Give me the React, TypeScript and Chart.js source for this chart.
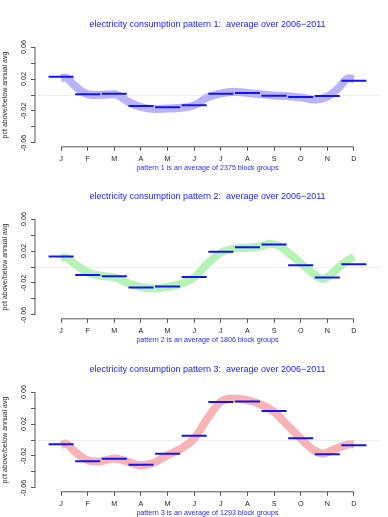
import React, { useEffect, useRef } from 'react';
import { Chart, registerables } from 'chart.js';

Chart.register(...registerables);

// ---------- data ----------
const monthLabels = ['J', 'F', 'M', 'A', 'M', 'J', 'J', 'A', 'S', 'O', 'N', 'D'];
const monthPositions = [1, 2, 3, 4, 5, 6, 7, 8, 9, 10, 11, 12];
const yTickValues = [-0.06, -0.04, -0.02, 0, 0.02, 0.04, 0.06];
const yTickLabels = ['-0.06', '', '-0.02', '', '0.02', '', '0.06'];

const titles = [
  'electricity consumption pattern 1:  average over 2006\u22122011',
  'electricity consumption pattern 2:  average over 2006\u22122011',
  'electricity consumption pattern 3:  average over 2006\u22122011',
];
const subtitles = [
  'pattern 1 is an average of 2375 block groups',
  'pattern 2 is an average of 1806 block groups',
  'pattern 3 is an average of 1293 block groups',
];
const yAxisTitle = 'pct above/below annual avg';

// monthly averages (blue segments)
const monthly1 = [0.0229, 0.0008, 0.0017, -0.0138, -0.0154, -0.0129, 0.0017, 0.0025, -0.0008, -0.0025, -0.0013, 0.0179];
const monthly2 = [0.0132, -0.0099, -0.0116, -0.0257, -0.0244, -0.0124, 0.019, 0.0248, 0.0281, 0.0021, -0.0132, 0.0033];
const monthly3 = [-0.0052, -0.0265, -0.0236, -0.0311, -0.0173, 0.0052, 0.0474, 0.0483, 0.0362, 0.0023, -0.0178, -0.0065];

// smoothed daily curve (thick band)
const band1X = [1, 1.15, 1.5, 2, 2.5, 3, 3.5, 4, 4.5, 5, 5.5, 6, 6.5, 7, 7.5, 8, 8.5, 9, 9.5, 10, 10.5, 11, 11.4, 11.8, 12];
const band1Y = [0.021, 0.022, 0.012, 0.001, 0.0, 0.001, -0.008, -0.015, -0.0175, -0.017, -0.016, -0.013, -0.003, 0.002, 0.004, 0.0025, 0.001, -0.0005, -0.0015, -0.003, -0.0055, -0.002, 0.008, 0.021, 0.02];

const band2X = [1, 1.15, 1.5, 2, 2.5, 3, 3.5, 4, 4.4, 5, 5.5, 6, 6.5, 7, 7.5, 8, 8.5, 8.85, 9.2, 9.6, 10, 10.5, 10.8, 11, 11.5, 11.85, 12];
const band2Y = [0.011, 0.012, 0.004, -0.0066, -0.011, -0.013, -0.02, -0.025, -0.027, -0.025, -0.021, -0.013, 0.004, 0.018, 0.023, 0.024, 0.026, 0.029, 0.026, 0.016, 0.005, -0.009, -0.015, -0.013, 0.002, 0.01, 0.013];

const band3X = [1, 1.16, 1.53, 2, 2.4, 3, 3.5, 4, 4.4, 5, 5.5, 6, 6.5, 7, 7.5, 8, 8.5, 9, 9.5, 10, 10.5, 10.86, 11.05, 11.5, 11.86, 12];
const band3Y = [-0.0065, -0.0044, -0.015, -0.0253, -0.027, -0.023, -0.027, -0.0316, -0.0295, -0.019, -0.0107, 0.0019, 0.027, 0.048, 0.052, 0.05, 0.0445, 0.0353, 0.0186, 0.0019, -0.0128, -0.0169, -0.0148, -0.0086, -0.0052, -0.0052];

const panels = [
  { title: titles[0], subtitle: subtitles[0], monthly: monthly1, bandX: band1X, bandY: band1Y, color: '#b8b4f7' },
  { title: titles[1], subtitle: subtitles[1], monthly: monthly2, bandX: band2X, bandY: band2Y, color: '#b4f3b4' },
  { title: titles[2], subtitle: subtitles[2], monthly: monthly3, bandX: band3X, bandY: band3Y, color: '#f8b4b4' },
];

// ---------- style ----------
const FONT = "'Liberation Sans', Arial, Helvetica, sans-serif";
const SEG_HALF = 0.47;
const X_MIN = 0.02;
const X_MAX = 12.98;
const Y_MIN = -0.0648;
const Y_MAX = 0.0648;
const PANEL_TOPS = [0, 172, 345];
const PANEL_H = 172;
const W = 388;

const axisLinesPlugin = {
  id: 'rAxisLines',
  afterDraw(chart: any) {
    const { ctx, chartArea, scales } = chart;
    const xs = scales.x;
    const ys = scales.y;
    ctx.save();
    ctx.strokeStyle = '#555';
    ctx.lineWidth = 1;
    ctx.beginPath();
    ctx.moveTo(xs.getPixelForValue(monthPositions[0]), chartArea.bottom);
    ctx.lineTo(xs.getPixelForValue(monthPositions[monthPositions.length - 1]), chartArea.bottom);
    ctx.moveTo(chartArea.left, ys.getPixelForValue(yTickValues[0]));
    ctx.lineTo(chartArea.left, ys.getPixelForValue(yTickValues[yTickValues.length - 1]));
    ctx.stroke();
    ctx.restore();
  },
};

function Panel({ cfg, top }: { cfg: any; top: number }) {
  const ref = useRef<HTMLCanvasElement | null>(null);
  useEffect(() => {
    if (!ref.current) return;
    const segData: any[] = [];
    monthPositions.forEach((m, i) => {
      segData.push({ x: m - SEG_HALF, y: cfg.monthly[i] });
      segData.push({ x: m + SEG_HALF, y: cfg.monthly[i] });
      segData.push({ x: m + 0.5, y: null });
    });
    const bandData = cfg.bandX.map((x: number, i: number) => ({ x, y: cfg.bandY[i] }));
    const chart = new Chart(ref.current, {
      type: 'line',
      data: {
        datasets: [
          {
            data: segData,
            borderColor: '#1414f0',
            borderWidth: 2,
            pointRadius: 0,
            spanGaps: false,
            tension: 0,
            order: 1,
          },
          {
            data: bandData,
            borderColor: cfg.color,
            borderWidth: 8,
            pointRadius: 0,
            cubicInterpolationMode: 'monotone',
            borderCapStyle: 'butt',
            order: 2,
          },
        ],
      },
      options: {
        animation: false,
        responsive: false,
        devicePixelRatio: 1,
        layout: { padding: { left: 0, right: 8, top: 0, bottom: 0 } },
        plugins: {
          legend: { display: false },
          tooltip: { enabled: false },
          title: {
            display: true,
            text: cfg.title,
            color: '#1a1aff',
            fullSize: false,
            font: { family: FONT, size: 9, weight: 'normal', lineHeight: 1.2 },
            padding: { top: 19.6, bottom: 12.8 },
          },
        },
        scales: {
          x: {
            type: 'linear',
            min: X_MIN,
            max: X_MAX,
            afterBuildTicks: (scale: any) => {
              scale.ticks = monthPositions.map((v) => ({ value: v }));
            },
            afterFit: (scale: any) => {
              scale.height = 25.2;
            },
            border: { display: false },
            grid: { drawOnChartArea: false, drawTicks: true, tickLength: 4, tickColor: '#555' },
            ticks: {
              autoSkip: false,
              maxRotation: 0,
              minRotation: 0,
              padding: 3.6,
              color: '#222',
              font: { family: FONT, size: 7.2, lineHeight: 1.2 },
              callback: (_v: any, i: number) => monthLabels[i],
            },
            title: {
              display: true,
              text: cfg.subtitle,
              color: '#2a2aff',
              font: { family: FONT, size: 7.2, lineHeight: 1.2 },
              padding: { top: 0, bottom: 0 },
            },
          },
          y: {
            type: 'linear',
            min: Y_MIN,
            max: Y_MAX,
            afterBuildTicks: (scale: any) => {
              scale.ticks = yTickValues.map((v) => ({ value: v }));
            },
            afterFit: (scale: any) => {
              scale.width = 35;
            },
            border: { display: false },
            grid: {
              drawOnChartArea: true,
              drawTicks: true,
              tickLength: 4,
              tickColor: '#555',
              color: (c: any) => (c.tick && c.tick.value === 0 ? '#eeeeee' : 'rgba(0,0,0,0)'),
            },
            ticks: {
              autoSkip: false,
              minRotation: 90,
              maxRotation: 90,
              crossAlign: 'center',
              padding: -1.5,
              color: '#222',
              font: { family: FONT, size: 7.2, lineHeight: 1.2 },
              callback: (_v: any, i: number) => yTickLabels[i],
            },
            title: {
              display: true,
              text: yAxisTitle,
              color: '#222',
              font: { family: FONT, size: 7, lineHeight: 1.2 },
              padding: { top: 0.8, bottom: 0 },
            },
          },
        },
      },
      plugins: [axisLinesPlugin],
    } as any);
    return () => chart.destroy();
  }, [cfg]);
  return (
    <canvas
      ref={ref}
      width={W}
      height={PANEL_H}
      style={{ position: 'absolute', left: 0, top, width: W, height: PANEL_H, display: 'block' }}
    />
  );
}

export default function App() {
  return (
    <div style={{ position: 'absolute', left: 0, top: 0, width: W, height: 517, background: '#ffffff', overflow: 'hidden' }}>
      {panels.map((p, i) => (
        <Panel key={i} cfg={p} top={PANEL_TOPS[i]} />
      ))}
    </div>
  );
}
